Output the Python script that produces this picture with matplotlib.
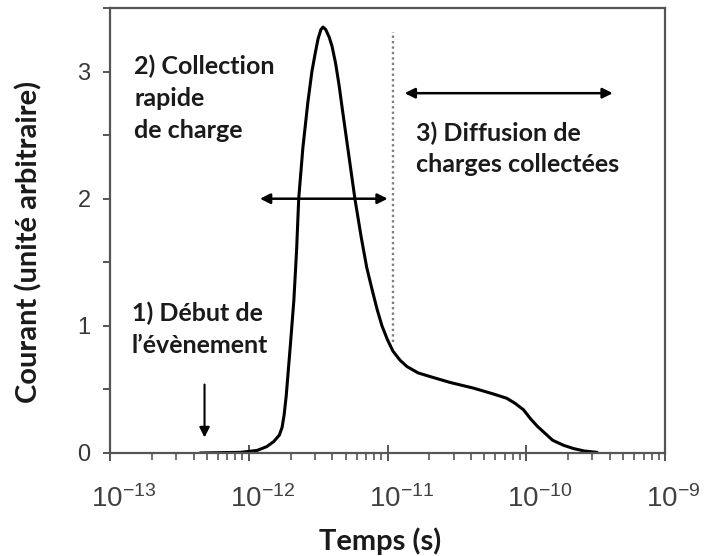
import numpy as np
import matplotlib
matplotlib.use("Agg")
import matplotlib.pyplot as plt
from matplotlib.ticker import LogLocator, MultipleLocator
from matplotlib.transforms import ScaledTranslation

# current pulse (log10 of time in s, arbitrary current)
log_t = [-12.35, -12.06, -11.94, -11.87, -11.82, -11.78, -11.76, -11.745, -11.73,
         -11.70, -11.675, -11.655, -11.64, -11.61, -11.575, -11.545, -11.52, -11.50,
         -11.48, -11.465, -11.445, -11.42, -11.40, -11.375, -11.35, -11.325, -11.28,
         -11.235, -11.19, -11.15, -11.11, -11.075, -11.04, -11.00, -10.96, -10.91,
         -10.86, -10.78, -10.69, -10.55, -10.38, -10.24, -10.14, -10.08, -10.02,
         -9.97, -9.92, -9.86, -9.81, -9.73, -9.66, -9.58, -9.49]
courant = [0.0, 0.005, 0.02, 0.05, 0.09, 0.14, 0.2, 0.3, 0.45,
           0.85, 1.2, 1.6, 2.0, 2.4, 2.75, 3.0, 3.15, 3.26,
           3.33, 3.35, 3.33, 3.27, 3.2, 3.07, 2.9, 2.7, 2.35,
           2.0, 1.7, 1.46, 1.28, 1.13, 1.0, 0.89, 0.80, 0.73,
           0.68, 0.63, 0.60, 0.555, 0.51, 0.465, 0.43, 0.39, 0.34,
           0.27, 0.21, 0.15, 0.10, 0.06, 0.035, 0.015, 0.005]
x_ticks = [1e-13, 1e-12, 1e-11, 1e-10, 1e-9]

t = 10.0 ** np.array(log_t)

# annotation anchors
t_sep = 1.1e-11
arrow2 = (1.15e-12, 1.05e-11, 2.0)
arrow3 = (1.27e-11, 4.4e-10, 2.83)
t_start = 4.8e-13

txt_font = ["Lato", "DejaVu Sans"]
tick_font = ["Liberation Sans", "DejaVu Sans"]
txt_col = "#1a1a1a"

fig = plt.figure(figsize=(7.07, 5.56), dpi=100)
ax = fig.add_axes([0.1556, 0.1853, 0.785, 0.8003])

ax.plot(t, courant, color="black", lw=2.2, solid_capstyle="round")
ax.plot([t_sep, t_sep], [0.87, 3.31], color="#808080", ls=(0, (1, 1.3)), lw=1.7)

ax.annotate("", xy=(arrow2[0], arrow2[2]), xytext=(arrow2[1], arrow2[2]),
            arrowprops=dict(arrowstyle="<|-|>", color="black", lw=1.8, mutation_scale=15))
ax.annotate("", xy=(arrow3[0], arrow3[2]), xytext=(arrow3[1], arrow3[2]),
            arrowprops=dict(arrowstyle="<|-|>", color="black", lw=1.8, mutation_scale=15))
ax.annotate("", xy=(t_start, 0.1), xytext=(t_start, 0.56),
            arrowprops=dict(arrowstyle="-|>", color="black", lw=1.5, mutation_scale=15))

kw = dict(family=txt_font, fontweight="bold", fontsize=18, color=txt_col,
          va="top", ha="left", linespacing=1.45)
ax.text(1.5e-13, 3.13, "2) Collection\nrapide\nde charge", **kw)
ax.text(1.6e-11, 2.61, "3) Diffusion de\ncharges collectées", **kw)
ax.text(1.44e-13, 1.19, "1) Début de\nl\u2019évènement", **kw)

ax.set_xscale("log")
ax.set_xlim(1e-13, 1e-9)
ax.set_ylim(0, 3.5)
ax.set_xticks(x_ticks)
ax.xaxis.set_minor_locator(LogLocator(base=10, subs=np.arange(2, 10), numticks=10))
ax.yaxis.set_major_locator(MultipleLocator(1))
ax.yaxis.set_minor_locator(MultipleLocator(0.5))

for s in ax.spines.values():
    s.set_color("#555555")
    s.set_linewidth(1.6)

ax.tick_params(axis="x", which="major", direction="inout", length=12, width=1.4,
               color="#555555", labelsize=20, labelcolor="#404040", pad=17)
ax.tick_params(axis="x", which="minor", direction="out", length=5, width=1.2, color="#555555")
ax.tick_params(axis="y", which="both", direction="out", length=5, width=1.4,
               color="#555555", labelsize=17, labelcolor="#383838", pad=9)
shift = ScaledTranslation(-0.19, 0, fig.dpi_scale_trans)
for lab in ax.get_xticklabels():
    lab.set_family(tick_font)
    lab.set_horizontalalignment("left")
    lab.set_transform(lab.get_transform() + shift)
for lab in ax.get_yticklabels():
    lab.set_family(tick_font)

ax.set_xlabel("Temps (s)", family=txt_font, fontweight="bold", fontsize=21, color=txt_col)
ax.xaxis.set_label_coords(0.4865, -0.168)
ax.set_ylabel("Courant (unité arbitraire)", family=txt_font, fontweight="bold",
              fontsize=21, color=txt_col)
ax.yaxis.set_label_coords(-0.1225, 0.475)

fig.savefig("out.png", dpi=100)
